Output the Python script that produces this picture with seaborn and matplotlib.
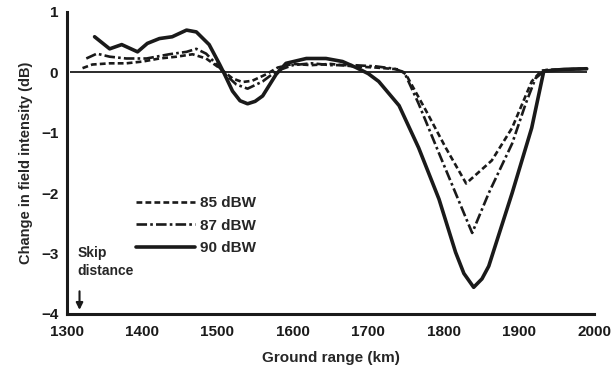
import pandas as pd
import seaborn as sns
import matplotlib.pyplot as plt
import numpy as np

# 85 dBW (dashed)
x85 = [1321, 1334, 1357, 1379, 1401, 1423, 1446, 1467, 1485, 1503, 1520, 1533, 1546, 1565,
       1580, 1600, 1625, 1650, 1680, 1710, 1740, 1750, 1777, 1803, 1830, 1864, 1891, 1917,
       1930, 1960, 1990]
y85 = [0.07, 0.13, 0.15, 0.15, 0.18, 0.23, 0.26, 0.30, 0.23, 0.07, -0.10, -0.16, -0.14, -0.03,
       0.08, 0.14, 0.12, 0.14, 0.10, 0.08, 0.05, -0.03, -0.64, -1.25, -1.84, -1.46, -0.92, -0.15,
       0.03, 0.05, 0.06]

# 87 dBW (dash-dot)
x87 = [1326, 1340, 1357, 1379, 1406, 1436, 1459, 1472, 1485, 1499, 1512, 1525, 1540, 1560,
       1578, 1600, 1625, 1650, 1680, 1710, 1735, 1748, 1767, 1794, 1816, 1838, 1860, 1891,
       1909, 1922, 1935, 1960, 1990]
y87 = [0.23, 0.31, 0.26, 0.23, 0.23, 0.30, 0.34, 0.39, 0.31, 0.13, -0.05, -0.20, -0.27, -0.15,
       0.02, 0.12, 0.15, 0.12, 0.12, 0.10, 0.06, 0.00, -0.52, -1.34, -2.00, -2.66, -2.00, -1.18,
       -0.52, -0.10, 0.04, 0.05, 0.06]

# 90 dBW (solid)
x90 = [1337, 1357, 1373, 1394, 1407, 1423, 1440, 1459, 1472, 1489, 1503, 1509, 1520, 1530,
       1540, 1550, 1560, 1578, 1591, 1618, 1644, 1666, 1684, 1700, 1714, 1741, 1767, 1794,
       1816, 1827, 1840, 1851, 1860, 1891, 1917, 1933, 1960, 1990]
y90 = [0.59, 0.39, 0.46, 0.34, 0.48, 0.56, 0.59, 0.70, 0.67, 0.46, 0.13, -0.02, -0.31, -0.47,
       -0.52, -0.48, -0.39, -0.03, 0.15, 0.23, 0.23, 0.18, 0.08, -0.02, -0.15, -0.55, -1.25, -2.10,
       -2.98, -3.33, -3.56, -3.42, -3.21, -2.00, -0.92, 0.02, 0.05, 0.06]

labels = ["85 dBW", "87 dBW", "90 dBW"]
x_ticks = [1300, 1400, 1500, 1600, 1700, 1800, 1900, 2000]
y_ticks = [1, 0, -1, -2, -3, -4]
skip_distance = 1317

sns.set_theme(style="white")
plt.rcParams['font.family'] = ['Liberation Sans', 'DejaVu Sans']
plt.rcParams['font.weight'] = 'bold'

fig = plt.figure(figsize=(6.12, 3.75), dpi=100)
ax = fig.add_axes([0.109, 0.163, 0.862, 0.805])

ax.hlines(0, 1304, 1990, color='k', lw=1.3)

series = [(x85, y85, (0, (2.2, 1.2)), 1.9),
          (x87, y87, (0, (4, 1.2, 1, 1.2)), 1.9),
          (x90, y90, '-', 2.6)]
for (xs, ys, ls, lw), lab in zip(series, labels):
    sns.lineplot(x=xs, y=ys, ax=ax, color='k', lw=lw, linestyle=ls,
                 estimator=None, sort=False, label=lab)

ax.set_xlim(1300, 2000)
ax.set_ylim(-4, 1)
ax.set_xticks(x_ticks)
ax.set_yticks(y_ticks)
ax.tick_params(direction='in', length=6, width=1.8, labelsize=11, colors='k')
ax.tick_params(axis='x', pad=8)
ax.tick_params(axis='y', pad=6)
for s in ['top', 'right']:
    ax.spines[s].set_visible(False)
for s in ['left', 'bottom']:
    ax.spines[s].set_linewidth(2.2)
    ax.spines[s].set_color('k')

ax.set_xlabel("Ground range (km)", fontsize=11, fontweight='bold', labelpad=9)
ax.set_ylabel("Change in field intensity (dB)", fontsize=10.5, fontweight='bold', labelpad=6)

leg = ax.legend(loc='upper left', bbox_to_anchor=(0.105, 0.435), frameon=False,
                handlelength=3.9, handletextpad=0.3, labelspacing=0.55, fontsize=11)

ax.text(skip_distance - 3, -2.88, "Skip\ndistance", fontsize=10, fontweight='bold',
        ha='left', va='top', linespacing=1.35)
ax.annotate("", xy=(skip_distance, -3.98), xytext=(skip_distance, -3.58),
            arrowprops=dict(arrowstyle='-|>', color='k', lw=1.5, mutation_scale=10))

fig.savefig("out.png", dpi=100)
